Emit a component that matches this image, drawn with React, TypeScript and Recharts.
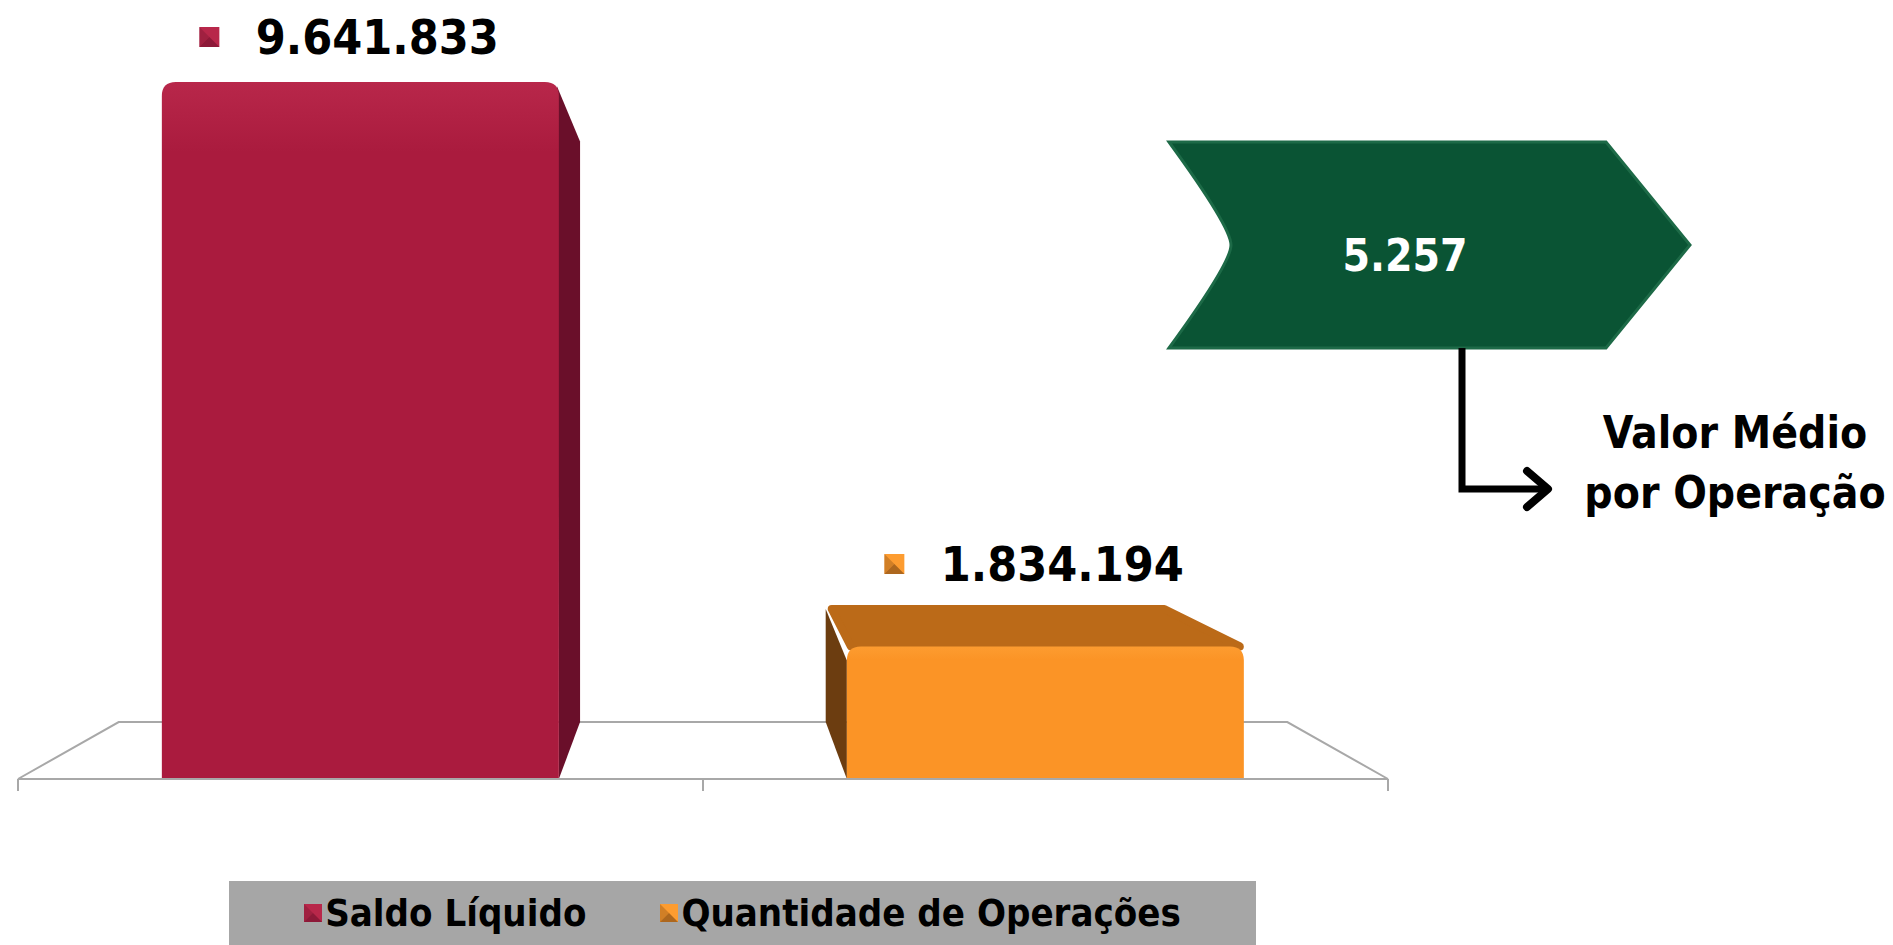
import React from 'react'
import { BarChart, Bar, XAxis, YAxis, Legend, LabelList } from 'recharts'

// chart values
const categories = ['Saldo Líquido', 'Quantidade de Operações']
const saldoLiquido: Array<number | null> = [9641833, null]
const quantidadeOperacoes: Array<number | null> = [null, 1834194]
const valorMedioPorOperacao = 5257
const calloutLabel = ['Valor Médio', 'por Operação']

const data = categories.map((name, i) => ({
  name,
  saldo: saldoLiquido[i] ?? undefined,
  qtd: quantidadeOperacoes[i] ?? undefined,
}))

const W = 1893
const H = 945
const MARGIN = { top: 82, right: 505, left: 18, bottom: 90 }
const XAXIS_H = 12
const LEGEND_H = 64
const PLOT_L = MARGIN.left
const PLOT_R = W - MARGIN.right
const PLOT_B = H - MARGIN.bottom - LEGEND_H - XAXIS_H
// simple perspective for the 3d look
const VX = (PLOT_L + PLOT_R) / 2
const VY = 392
const DEPTH = 0.853

const FONT = "'DejaVu Sans Condensed', 'DejaVu Sans', sans-serif"
const fmt = (v: number) => v.toLocaleString('pt-BR')

const back = (x: number, y: number) => [VX + (x - VX) * DEPTH, VY + (y - VY) * DEPTH]

interface BoxColors {
  id: string
  front: string
  frontTop: string
  side: string
  top: string
}

const RED: BoxColors = { id: 'red', front: '#aa1b3e', frontTop: '#b8274a', side: '#6a0f2a', top: '#8a1530' }
const ORANGE: BoxColors = { id: 'orange', front: '#fb9426', frontTop: '#fd9c30', side: '#6c3d10', top: '#bb6a18' }

const makeBox = (c: BoxColors) => (props: any) => {
  const { x, y, width, height } = props
  if (!height || height <= 0 || !width) return <g />
  const x2 = x + width
  const yb = y + height
  const [bxl, byt] = back(x, y)
  const [bxr] = back(x2, y)
  const [, byb] = back(x, yb)
  const r = 14
  const front = `M${x},${yb} L${x},${y + r} Q${x},${y} ${x + r},${y} L${x2 - r},${y} Q${x2},${y} ${x2},${y + r} L${x2},${yb} Z`
  return (
    <g>
      <defs>
        <linearGradient id={`g-${c.id}`} x1="0" y1="0" x2="0" y2="1">
          <stop offset="0" stopColor={c.frontTop} />
          <stop offset="0.1" stopColor={c.front} />
          <stop offset="1" stopColor={c.front} />
        </linearGradient>
      </defs>
      {x > VX && <polygon points={`${x},${y + r} ${bxl},${byt} ${bxl},${byb} ${x},${yb}`} fill={c.side} />}
      {x2 < VX && <polygon points={`${x2 - 2},${y + 4} ${bxr},${byt + r} ${bxr},${byb} ${x2},${yb}`} fill={c.side} />}
      {y > VY && <polygon points={`${x + 4},${y} ${x2 - 4},${y} ${bxr},${byt} ${bxl + 6},${byt}`} fill={c.top} stroke={c.top} strokeLinejoin="round" strokeWidth={8} />}
      <path d={front} fill={`url(#g-${c.id})`} />
    </g>
  )
}

const Marker = ({ x, y, size, color, dark }: { x: number; y: number; size: number; color: string; dark: string }) => (
  <g>
    <rect x={x} y={y} width={size} height={size} fill={color} />
    <polygon points={`${x},${y + size} ${x + size / 2},${y + size / 2} ${x + size},${y + size}`} fill={dark} opacity={0.55} />
    <polygon points={`${x},${y} ${x + size / 2},${y + size / 2} ${x},${y + size}`} fill={dark} opacity={0.3} />
  </g>
)

const makeLabel = (c: BoxColors) => (p: any) => {
  const { x, y, width, height, value } = p
  if (value == null || !height) return null
  const [, byt] = back(x, y)
  const topY = Math.min(y, byt)
  const cy = topY - 45
  const cx = x + width / 2 + 17
  return (
    <g>
      <Marker x={cx - 178} y={cy - 10} size={20} color={c.frontTop} dark={c.side} />
      <text x={cx} y={cy} textAnchor="middle" dominantBaseline="central" fontFamily={FONT} fontStretch="condensed" fontWeight="bold" fontSize={48} fill="#000">
        {fmt(Number(value))}
      </text>
    </g>
  )
}

const LegendBox = ({ payload }: any) => {
  const items = [...(payload || [])].sort((a: any, b: any) => categories.indexOf(a.value) - categories.indexOf(b.value))
  return (
    <div
      style={{
        width: 1027,
        height: LEGEND_H,
        background: '#a6a6a6',
        display: 'flex',
        alignItems: 'center',
        justifyContent: 'center',
        gap: 74,
        fontFamily: FONT,
        fontStretch: 'condensed',
        fontWeight: 'bold',
        fontSize: 38,
        color: '#000',
      }}
    >
      {items.map((e: any) => (
        <div key={e.value} style={{ display: 'flex', alignItems: 'center', gap: 3 }}>
          <svg width={18} height={18}>
            <Marker x={0} y={0} size={18} color={e.color} dark={e.color === RED.frontTop ? RED.side : ORANGE.side} />
          </svg>
          <span>{e.value}</span>
        </div>
      ))}
    </div>
  )
}

// floor of the 3d plot, built from the plot area
const Floor = () => {
  const [bl, bb] = back(PLOT_L, PLOT_B)
  const [br] = back(PLOT_R, PLOT_B)
  const mid = (PLOT_L + PLOT_R) / 2
  return (
    <svg width={W} height={H} style={{ position: 'absolute', left: 0, top: 0 }}>
      <polyline points={`${PLOT_L},${PLOT_B} ${bl},${bb} ${br},${bb} ${PLOT_R},${PLOT_B}`} fill="none" stroke="#a8a8a8" strokeWidth={2} />
      {[PLOT_L, mid, PLOT_R].map((tx) => (
        <line key={tx} x1={tx} y1={PLOT_B} x2={tx} y2={PLOT_B + 12} stroke="#a8a8a8" strokeWidth={2} />
      ))}
    </svg>
  )
}

const Callout = () => {
  const l = 1169, t = 142, b = 348, notch = 1231, tip = 1690, shoulder = 1606
  const cy = (t + b) / 2
  const path = `M${l},${t} L${shoulder},${t} L${tip},${cy} L${shoulder},${b} L${l},${b} Q${notch},${cy + 18} ${notch},${cy} Q${notch},${cy - 18} ${l},${t} Z`
  const lx = 1462
  const ly = 489
  return (
    <svg width={W} height={H} style={{ position: 'absolute', left: 0, top: 0, pointerEvents: 'none' }}>
      <path d={path} fill="#0a5434" stroke="#1d6a47" strokeWidth={3} />
      <text x={1405} y={cy + 10} textAnchor="middle" dominantBaseline="central" fontFamily={FONT} fontStretch="condensed" fontWeight="bold" fontSize={44} fill="#fff">
        {fmt(valorMedioPorOperacao)}
      </text>
      <polyline points={`${lx},${b} ${lx},${ly} ${1545},${ly}`} fill="none" stroke="#000" strokeWidth={7} />
      <polyline points={`${1527},${ly - 18} ${1548},${ly} ${1527},${ly + 18}`} fill="none" stroke="#000" strokeWidth={8} strokeLinecap="round" strokeLinejoin="round" />
      {calloutLabel.map((s, i) => (
        <text key={s} x={1735} y={432 + i * 60} textAnchor="middle" dominantBaseline="central" fontFamily={FONT} fontStretch="condensed" fontWeight="bold" fontSize={44} fill="#000">
          {s}
        </text>
      ))}
    </svg>
  )
}

export default function App() {
  return (
    <div style={{ position: 'absolute', left: 0, top: 0, width: W, height: H, background: '#fff' }}>
      <Floor />
      <div style={{ position: 'absolute', left: 0, top: 0 }}>
        <BarChart width={W} height={H} data={data} margin={MARGIN} barCategoryGap="21%">
          <XAxis dataKey="name" height={XAXIS_H} tick={false} tickLine={false} axisLine={{ stroke: '#a8a8a8', strokeWidth: 2 }} />
          <YAxis hide domain={[0, 'dataMax']} />
          <Legend
            verticalAlign="bottom"
            height={LEGEND_H}
            wrapperStyle={{ left: 229, top: H - LEGEND_H, width: 1027 }}
            content={<LegendBox />}
          />
          <Bar dataKey="saldo" name={categories[0]} stackId="a" fill={RED.frontTop} shape={makeBox(RED)} isAnimationActive={false}>
            <LabelList dataKey="saldo" content={makeLabel(RED)} />
          </Bar>
          <Bar dataKey="qtd" name={categories[1]} stackId="a" fill={ORANGE.frontTop} shape={makeBox(ORANGE)} isAnimationActive={false}>
            <LabelList dataKey="qtd" content={makeLabel(ORANGE)} />
          </Bar>
        </BarChart>
      </div>
      <Callout />
    </div>
  )
}
